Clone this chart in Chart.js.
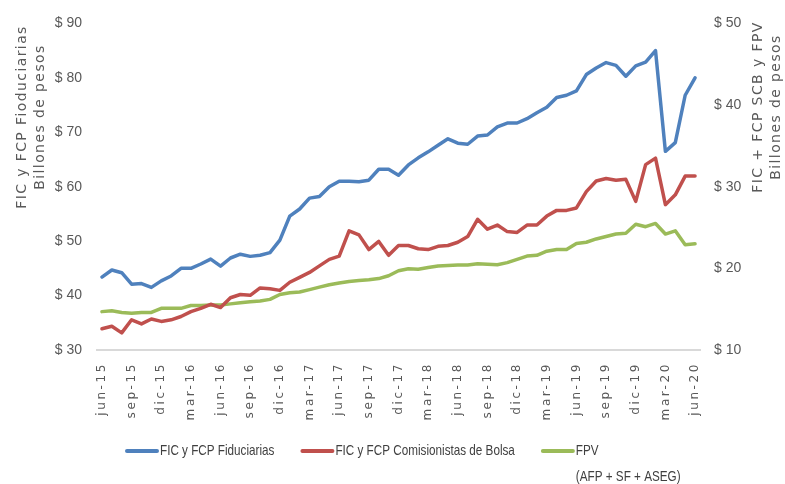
<!DOCTYPE html>
<html>
<head>
<meta charset="utf-8">
<script src="https://cdn.jsdelivr.net/npm/chart.js@4"></script>
<style>body{margin:0;background:#fff}</style>
</head>
<body>
<canvas id="chart" width="785" height="484"></canvas>
<script>
var months = [
	'jun-15','jul-15','ago-15','sep-15','oct-15','nov-15','dic-15',
	'ene-16','feb-16','mar-16','abr-16','may-16','jun-16','jul-16','ago-16','sep-16','oct-16','nov-16','dic-16',
	'ene-17','feb-17','mar-17','abr-17','may-17','jun-17','jul-17','ago-17','sep-17','oct-17','nov-17','dic-17',
	'ene-18','feb-18','mar-18','abr-18','may-18','jun-18','jul-18','ago-18','sep-18','oct-18','nov-18','dic-18',
	'ene-19','feb-19','mar-19','abr-19','may-19','jun-19','jul-19','ago-19','sep-19','oct-19','nov-19','dic-19',
	'ene-20','feb-20','mar-20','abr-20','may-20','jun-20'
];

// eje izquierdo
var fiduciarias = [
	43.4, 44.7, 44.2, 42.1, 42.2, 41.5, 42.7, 43.6, 45.0, 45.0, 45.8, 46.7, 45.4, 46.9, 47.6, 47.2,
	47.4, 47.9, 50.2, 54.6, 55.9, 57.9, 58.2, 60.0, 61.0, 61.0, 60.9, 61.2, 63.2, 63.2, 62.1, 64.0,
	65.3, 66.4, 67.6, 68.8, 68.0, 67.8, 69.3, 69.5, 71.0, 71.7, 71.7, 72.5, 73.6, 74.6, 76.4, 76.8,
	77.6, 80.6, 81.8, 82.8, 82.3, 80.3, 82.2, 82.9, 85.0, 66.5, 68.1, 76.8, 80.0
];

// eje derecho
var comisionistas = [
	12.6, 12.9, 12.1, 13.7, 13.2, 13.8, 13.5, 13.7, 14.1, 14.7, 15.1, 15.6, 15.2, 16.4, 16.8, 16.7,
	17.6, 17.5, 17.3, 18.3, 18.9, 19.5, 20.3, 21.1, 21.5, 24.6, 24.1, 22.3, 23.3, 21.6, 22.8, 22.8,
	22.4, 22.3, 22.7, 22.8, 23.2, 23.9, 26.0, 24.8, 25.3, 24.5, 24.4, 25.3, 25.3, 26.4, 27.1, 27.1,
	27.4, 29.4, 30.7, 31.0, 30.8, 30.9, 28.2, 32.7, 33.5, 27.8, 29.0, 31.3, 31.3
];
var fpv = [
	14.7, 14.8, 14.6, 14.5, 14.6, 14.6, 15.1, 15.1, 15.1, 15.45, 15.45, 15.5, 15.5, 15.65, 15.8, 15.9,
	16.0, 16.2, 16.8, 17.0, 17.1, 17.4, 17.7, 18.0, 18.2, 18.4, 18.5, 18.6, 18.75, 19.1, 19.7, 19.95,
	19.9, 20.1, 20.3, 20.35, 20.4, 20.4, 20.55, 20.5, 20.45, 20.7, 21.1, 21.5, 21.6, 22.1, 22.3, 22.3,
	23.05, 23.2, 23.6, 23.9, 24.2, 24.3, 25.4, 25.1, 25.5, 24.2, 24.6, 22.9, 23.0
];

var leftTitle = ['FIC y FCP Fioduciarias', 'Billones de pesos'];
var rightTitle = ['FIC + FCP SCB y FPV', 'Billones de pesos'];

var sans = "'Liberation Sans', Arial, sans-serif";
var wide = "'DejaVu Sans', Verdana, sans-serif";
var grey = '#595959';

// titulos verticales centrados como en el original
var axisTitles = {
	id: 'axisTitles',
	afterDraw: function(chart){
		var ctx = chart.ctx;
		function vtext(lines, x, y){
			ctx.save();
			ctx.font = '14px ' + wide;
			ctx.fillStyle = grey;
			ctx.letterSpacing = '1.4px';
			ctx.textAlign = 'center';
			ctx.textBaseline = 'middle';
			lines.forEach(function(t, i){
				ctx.save();
				ctx.translate(x + i * 18, y);
				ctx.rotate(-Math.PI / 2);
				ctx.fillText(t, 0, 0);
				ctx.restore();
			});
			ctx.restore();
		}
		vtext(leftTitle, 22, 117);
		vtext(rightTitle, 758, 107);
	}
};

// leyenda abajo, FPV en dos renglones; letra angosta simulada
var legendBox = {
	id: 'legendBox',
	afterDraw: function(chart){
		var ctx = chart.ctx, x = 127, y = 451, sx = 0.78;
		ctx.save();
		ctx.font = '15px ' + sans;
		ctx.textBaseline = 'middle';
		chart.data.datasets.forEach(function(ds){
			ctx.strokeStyle = ds.borderColor;
			ctx.lineWidth = 4;
			ctx.lineCap = 'round';
			ctx.beginPath();
			ctx.moveTo(x, y);
			ctx.lineTo(x + 30, y);
			ctx.stroke();
			ctx.fillStyle = '#404040';
			var lines = ds.label.split('\n');
			lines.forEach(function(t, i){
				ctx.save();
				ctx.translate(x + 33, y + i * 26);
				ctx.scale(sx, 1);
				ctx.fillText(t, 0, 0);
				ctx.restore();
			});
			x += 33 + ctx.measureText(lines[0]).width * sx + 28;
		});
		ctx.restore();
	}
};

// etiquetas del eje x con letras separadas
var spacedTicks = {
	id: 'spacedTicks',
	afterLayout: function(chart){
		var s = chart.scales.x;
		if (s._spaced) return;
		var orig = s.drawLabels;
		s.drawLabels = function(area){
			this.ctx.save();
			this.ctx.letterSpacing = '2.6px';
			orig.call(this, area);
			this.ctx.restore();
		};
		s._spaced = true;
	}
};

new Chart(document.getElementById('chart'), {
	type: 'line',
	data: {
		labels: months,
		datasets: [
			{label: 'FIC y FCP Fiduciarias', data: fiduciarias, borderColor: '#4f81bd', yAxisID: 'y'},
			{label: 'FIC y FCP Comisionistas de Bolsa', data: comisionistas, borderColor: '#c0504d', yAxisID: 'y1'},
			{label: 'FPV\n(AFP + SF + ASEG)', data: fpv, borderColor: '#9bbb59', yAxisID: 'y1'}
		]
	},
	options: {
		responsive: false,
		animation: false,
		devicePixelRatio: 1,
		layout: {padding: {top: 15}},
		elements: {
			point: {radius: 0},
			line: {borderWidth: 3.5, tension: 0, borderCapStyle: 'round', borderJoinStyle: 'round'}
		},
		plugins: {legend: {display: false}, tooltip: {enabled: false}},
		scales: {
			x: {
				offset: true,
				grid: {display: false, drawTicks: false},
				border: {color: '#d9d9d9', width: 2},
				ticks: {
					autoSkip: false, maxRotation: 90, minRotation: 90, padding: 12,
					color: grey, font: {family: wide, size: 12},
					callback: function(v, i){ return i % 3 === 0 ? this.getLabelForValue(v) : ''; }
				},
				afterFit: function(s){ s.height = 134; }
			},
			y: {
				position: 'left', min: 30, max: 90,
				grid: {display: false, drawTicks: false},
				border: {display: false},
				ticks: {
					stepSize: 10, padding: 15, color: grey, font: {family: sans, size: 14},
					callback: function(v){ return '$ ' + v; }
				},
				afterFit: function(s){ s.width = 97; }
			},
			y1: {
				position: 'right', min: 10, max: 50,
				grid: {display: false, drawTicks: false},
				border: {display: false},
				ticks: {
					stepSize: 10, padding: 14, color: grey, font: {family: sans, size: 14},
					callback: function(v){ return '$ ' + v; }
				},
				afterFit: function(s){ s.width = 85; }
			}
		}
	},
	plugins: [axisTitles, legendBox, spacedTicks]
});
</script>
</body>
</html>
